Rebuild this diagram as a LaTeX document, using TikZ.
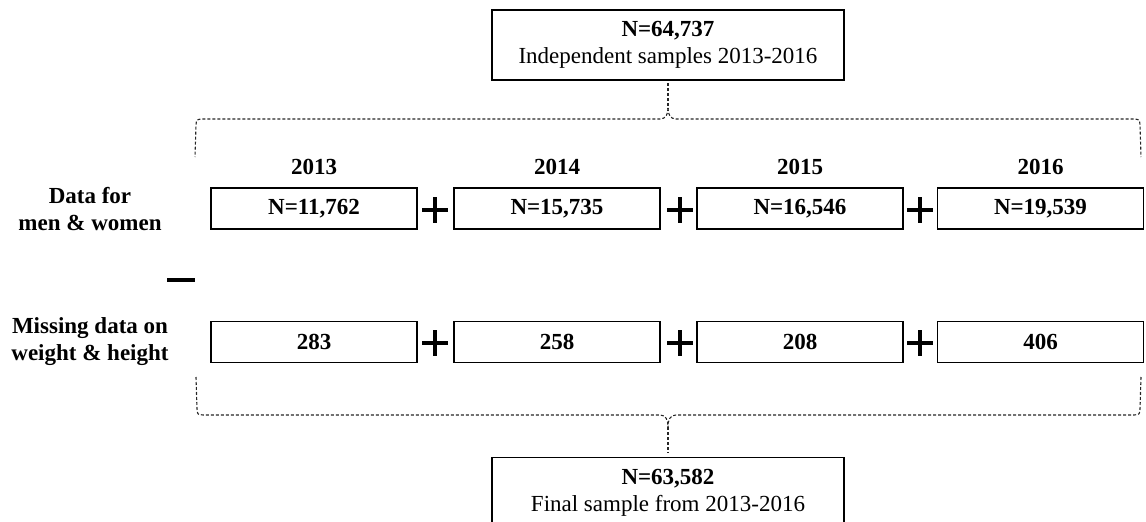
\documentclass[tikz,border=0pt]{standalone}
\usepackage{fontspec}
\setmainfont{Liberation Serif}
\begin{document}
\begin{tikzpicture}[x=1pt,y=-1pt,
  txt/.style={font=\fontsize{23}{27}\selectfont},
  boldtxt/.style={font=\fontsize{23}{27}\selectfont\bfseries},
  yrbox/.style={draw,line width=1.5pt,minimum width=206pt,minimum height=41pt,inner sep=0pt,font=\fontsize{23}{27}\selectfont\bfseries},
  bigbox/.style={draw,line width=1.8pt,minimum width=352pt,minimum height=70pt,align=center,inner sep=0pt,font=\fontsize{23}{27}\selectfont},
  brace/.style={dash pattern=on 3pt off 2pt,line width=1.1pt,black!85},
  sign/.style={line width=3.5pt}]
\useasboundingbox (0,0) rectangle (1146,522);
\clip (0,0) rectangle (1146,522);

% top and bottom boxes
\node[bigbox] (top) at (668,45) {\textbf{N=64,737}\\Independent samples 2013-2016};
\node[bigbox] (bot) at (668,492.5) {\textbf{N=63,582}\\Final sample from 2013-2016};

% year labels
\node[boldtxt] (y13) at (314,167) {2013};
\node[boldtxt] (y14) at (557,167) {2014};
\node[boldtxt] (y15) at (800,167) {2015};
\node[boldtxt] (y16) at (1040.5,167) {2016};

% row labels
\node[boldtxt,align=center] (lab1) at (90,209) {Data for\\men \& women};
\node[boldtxt,align=center] (lab2) at (90,342) {Missing data on\\weight \& height};

% row 1
\node[yrbox] (a13) at (314,208.5) {N=11,762};
\node[yrbox] (a14) at (557,208.5) {N=15,735};
\node[yrbox] (a15) at (800,208.5) {N=16,546};
\node[yrbox] (a16) at (1040.5,208.5) {N=19,539};

% row 2
\node[yrbox] (b13) at (314,342) {283};
\node[yrbox] (b14) at (557,342) {258};
\node[yrbox] (b15) at (800,342) {208};
\node[yrbox] (b16) at (1040.5,342) {406};

% plus signs
\foreach \px in {435,680,920}{
  \foreach \py in {210,343}{
    \draw[sign] (\px-13,\py) -- (\px+13,\py) (\px,\py-13) -- (\px,\py+13);
  }
}
% minus sign
\draw[line width=4pt] (167,280) -- (195,280);

% top brace
\coordinate (tp) at (668,108);
\coordinate (tl) at (195,157);
\coordinate (tr) at (1141,157);
\draw[brace,shorten <=2pt] (top.south) -- (tp);
\draw[brace] (tp) .. controls (668,114) and (666,119) .. (660,119) -- (202,119)
  .. controls (196.5,119.5) .. (196,125) -- (tl);
\draw[brace] (tp) .. controls (668,114) and (670,119) .. (676,119) -- (1134,119)
  .. controls (1139.5,119.5) .. (1140,125) -- (tr);

% bottom brace
\coordinate (bp) at (668,427);
\coordinate (bl) at (196,377);
\coordinate (br) at (1141,377);
\draw[brace,shorten >=4pt] (bp) -- (bot.north);
\draw[brace] (bl) -- (197,409) .. controls (197.5,414.5) .. (203,415) -- (660,415)
  .. controls (666,415) and (668,420) .. (bp);
\draw[brace] (br) -- (1140,409) .. controls (1139.5,414.5) .. (1134,415) -- (676,415)
  .. controls (670,415) and (668,420) .. (bp);
\end{tikzpicture}
\end{document}
